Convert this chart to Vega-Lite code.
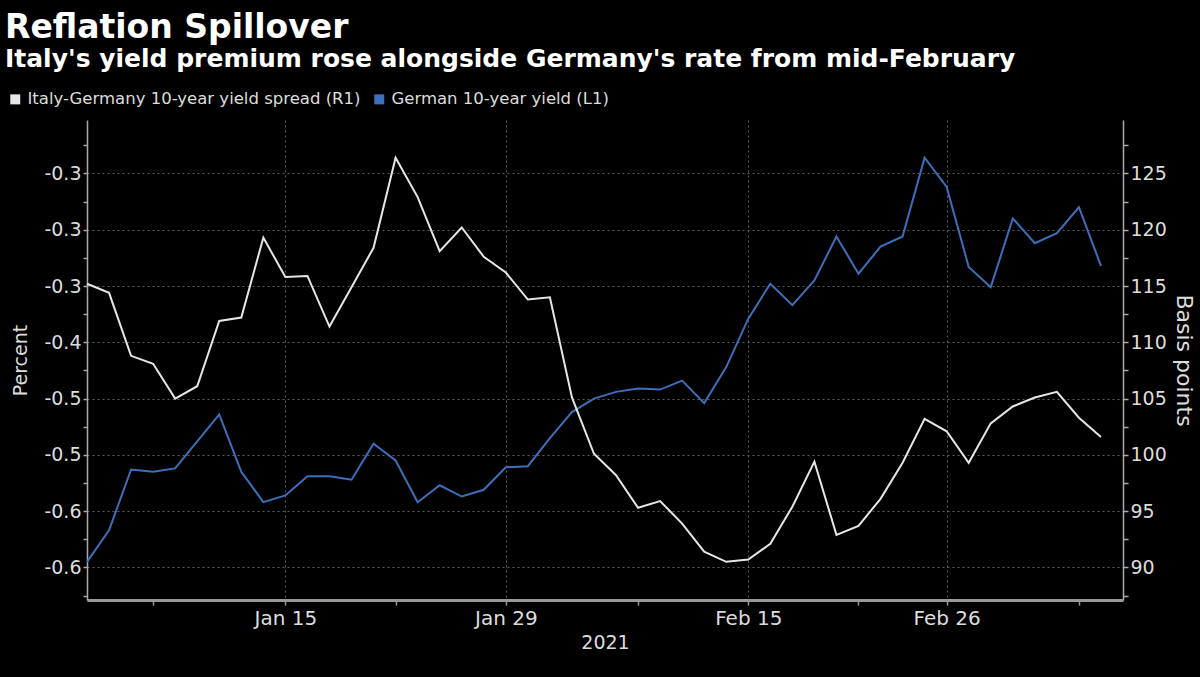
{
  "$schema": "https://vega.github.io/schema/vega-lite/v6.json",
  "width": 1036,
  "height": 480,
  "autosize": "none",
  "padding": {"left": 87, "top": 120, "right": 77, "bottom": 77},
  "background": "#000000",
  "config": {
    "view": {"stroke": null},
    "font": "DejaVu Sans"
  },
  "title": {
    "text": "Reflation Spillover",
    "subtitle": "Italy's yield premium rose alongside Germany's rate from mid-February",
    "anchor": "start",
    "frame": "group",
    "dx": -82,
    "offset": 19,
    "font": "DejaVu Sans",
    "fontSize": 33,
    "fontWeight": "bold",
    "color": "#ffffff",
    "subtitleFont": "DejaVu Sans",
    "subtitleFontSize": 25,
    "subtitleFontWeight": "bold",
    "subtitleColor": "#ffffff",
    "subtitlePadding": 2
  },
  "data": {
    "values": [
      {"date": "Jan 4", "german": -0.595, "spread": 115.2},
      {"date": "Jan 5", "german": -0.567, "spread": 114.4},
      {"date": "Jan 6", "german": -0.513, "spread": 108.8},
      {"date": "Jan 7", "german": -0.515, "spread": 108.1},
      {"date": "Jan 8", "german": -0.512, "spread": 105.0},
      {"date": "Jan 11", "german": -0.488, "spread": 106.1},
      {"date": "Jan 12", "german": -0.464, "spread": 111.9},
      {"date": "Jan 13", "german": -0.515, "spread": 112.2},
      {"date": "Jan 14", "german": -0.542, "spread": 119.3},
      {"date": "Jan 15", "german": -0.536, "spread": 115.8},
      {"date": "Jan 18", "german": -0.519, "spread": 115.9},
      {"date": "Jan 19", "german": -0.519, "spread": 111.4},
      {"date": "Jan 20", "german": -0.522, "spread": 114.9},
      {"date": "Jan 21", "german": -0.490, "spread": 118.4},
      {"date": "Jan 22", "german": -0.505, "spread": 126.4},
      {"date": "Jan 25", "german": -0.542, "spread": 122.9},
      {"date": "Jan 26", "german": -0.527, "spread": 118.1},
      {"date": "Jan 27", "german": -0.537, "spread": 120.2},
      {"date": "Jan 28", "german": -0.531, "spread": 117.6},
      {"date": "Jan 29", "german": -0.511, "spread": 116.2},
      {"date": "Feb 1", "german": -0.510, "spread": 113.8},
      {"date": "Feb 2", "german": -0.485, "spread": 114.0},
      {"date": "Feb 3", "german": -0.462, "spread": 105.1},
      {"date": "Feb 4", "german": -0.450, "spread": 100.1},
      {"date": "Feb 5", "german": -0.444, "spread": 98.2},
      {"date": "Feb 8", "german": -0.441, "spread": 95.3},
      {"date": "Feb 9", "german": -0.442, "spread": 95.9},
      {"date": "Feb 10", "german": -0.434, "spread": 93.9},
      {"date": "Feb 11", "german": -0.454, "spread": 91.4},
      {"date": "Feb 12", "german": -0.422, "spread": 90.5},
      {"date": "Feb 15", "german": -0.379, "spread": 90.7},
      {"date": "Feb 16", "german": -0.348, "spread": 92.1},
      {"date": "Feb 17", "german": -0.367, "spread": 95.4},
      {"date": "Feb 18", "german": -0.345, "spread": 99.4},
      {"date": "Feb 19", "german": -0.306, "spread": 92.9},
      {"date": "Feb 22", "german": -0.339, "spread": 93.7},
      {"date": "Feb 23", "german": -0.315, "spread": 96.1},
      {"date": "Feb 24", "german": -0.306, "spread": 99.3},
      {"date": "Feb 25", "german": -0.236, "spread": 103.2},
      {"date": "Feb 26", "german": -0.262, "spread": 102.1},
      {"date": "Mar 1", "german": -0.333, "spread": 99.3},
      {"date": "Mar 2", "german": -0.351, "spread": 102.8},
      {"date": "Mar 3", "german": -0.290, "spread": 104.3},
      {"date": "Mar 4", "german": -0.312, "spread": 105.1},
      {"date": "Mar 5", "german": -0.303, "spread": 105.6},
      {"date": "Mar 8", "german": -0.280, "spread": 103.3},
      {"date": "Mar 9", "german": -0.332, "spread": 101.6}
    ]
  },
  "encoding": {
    "x": {
      "field": "date",
      "type": "ordinal",
      "scale": {
        "type": "point",
        "padding": 0,
        "domain": ["Jan 4","Jan 5","Jan 6","Jan 7","Jan 8","Jan 11","Jan 12","Jan 13","Jan 14","Jan 15","Jan 18","Jan 19","Jan 20","Jan 21","Jan 22","Jan 25","Jan 26","Jan 27","Jan 28","Jan 29","Feb 1","Feb 2","Feb 3","Feb 4","Feb 5","Feb 8","Feb 9","Feb 10","Feb 11","Feb 12","Feb 15","Feb 16","Feb 17","Feb 18","Feb 19","Feb 22","Feb 23","Feb 24","Feb 25","Feb 26","Mar 1","Mar 2","Mar 3","Mar 4","Mar 5","Mar 8","Mar 9","Mar 10"]
      },
      "axis": {
        "title": "2021",
        "titleColor": "#dddddd",
        "titleFont": "DejaVu Sans",
        "titleFontSize": 19,
        "titleFontWeight": "normal",
        "titlePadding": 5,
        "values": ["Jan 7","Jan 15","Jan 22","Jan 29","Feb 8","Feb 15","Feb 22","Feb 26","Mar 8"],
        "labelExpr": "indexof(['Jan 15','Jan 29','Feb 15','Feb 26'], datum.value) >= 0 ? datum.value : ''",
        "labelAngle": 0,
        "labelColor": "#dddddd",
        "labelFont": "DejaVu Sans",
        "labelFontSize": 20,
        "labelPadding": 3,
        "domainColor": "#999999",
        "domainWidth": 3,
        "tickColor": "#999999",
        "tickSize": 5,
        "tickWidth": 1.5,
        "grid": true,
        "gridColor": "#777777",
        "gridDash": [2, 3],
        "gridWidth": 1,
        "gridOpacity": {
          "condition": {"test": "indexof(['Jan 15','Jan 29','Feb 15','Feb 26'], datum.value) >= 0", "value": 0.8},
          "value": 0
        }
      }
    }
  },
  "layer": [
    {
      "mark": {"type": "line", "strokeWidth": 2},
      "encoding": {
        "y": {
          "field": "german",
          "type": "quantitative",
          "scale": {"domain": [-0.6289, -0.2025], "nice": false, "zero": false},
          "axis": {
            "orient": "left",
            "title": "Percent",
            "titleColor": "#dddddd",
            "titleFont": "DejaVu Sans",
            "titleFontSize": 19,
            "titleFontWeight": "normal",
            "titlePadding": 13,
            "values": [-0.625, -0.6, -0.575, -0.55, -0.525, -0.5, -0.475, -0.45, -0.425, -0.4, -0.375, -0.35, -0.325, -0.3, -0.275, -0.25, -0.225],
            "labelExpr": "abs(datum.value * 20 - round(datum.value * 20)) < 0.01 ? replace(format(datum.value, '.1f'), '\u2212', '-') : ''",
            "labelColor": "#dddddd",
            "labelFont": "DejaVu Sans",
            "labelFontSize": 19,
            "labelPadding": 2,
            "domainColor": "#aaaaaa",
            "domainWidth": 1.5,
            "tickColor": "#aaaaaa",
            "tickSize": 4,
            "tickWidth": 1.5,
            "grid": true,
            "gridColor": "#777777",
            "gridDash": [2, 3],
            "gridWidth": 1,
            "gridOpacity": {
              "condition": {"test": "abs(datum.value * 20 - round(datum.value * 20)) < 0.01", "value": 0.8},
              "value": 0
            }
          }
        },
        "color": {
          "datum": "German 10-year yield (L1)",
          "type": "nominal",
          "scale": {
            "domain": ["Italy-Germany 10-year yield spread (R1)", "German 10-year yield (L1)"],
            "range": ["#e6e6e6", "#3d6fbb"]
          },
          "legend": {
            "title": null,
            "orient": "none",
            "legendX": -80,
            "legendY": -29,
            "direction": "horizontal",
            "symbolType": "square",
            "symbolSize": 100,
            "symbolStrokeWidth": 0,
            "columnPadding": 10,
            "labelColor": "#dddddd",
            "labelFont": "DejaVu Sans",
            "labelFontSize": 16.5,
            "labelOffset": 4,
            "labelLimit": 500,
            "encode": {
              "symbols": {"update": {"fill": {"scale": "color", "field": "value"}, "fillOpacity": {"value": 1}}}
            }
          }
        }
      }
    },
    {
      "mark": {"type": "line", "strokeWidth": 2},
      "encoding": {
        "y": {
          "field": "spread",
          "type": "quantitative",
          "scale": {"domain": [87.11, 129.75], "nice": false, "zero": false},
          "axis": {
            "orient": "right",
            "title": "Basis points",
            "titleColor": "#dddddd",
            "titleFont": "DejaVu Sans",
            "titleFontSize": 22,
            "titleFontWeight": "normal",
            "titlePadding": 5,
            "values": [87.5, 90, 92.5, 95, 97.5, 100, 102.5, 105, 107.5, 110, 112.5, 115, 117.5, 120, 122.5, 125, 127.5],
            "labelExpr": "datum.value % 5 == 0 ? datum.label : ''",
            "labelColor": "#dddddd",
            "labelFont": "DejaVu Sans",
            "labelFontSize": 19,
            "labelPadding": 2,
            "domainColor": "#aaaaaa",
            "domainWidth": 1.5,
            "tickColor": "#aaaaaa",
            "tickSize": 5,
            "tickWidth": 1.5,
            "grid": false
          }
        },
        "color": {"datum": "Italy-Germany 10-year yield spread (R1)", "type": "nominal"}
      }
    }
  ],
  "resolve": {"scale": {"y": "independent"}}
}
